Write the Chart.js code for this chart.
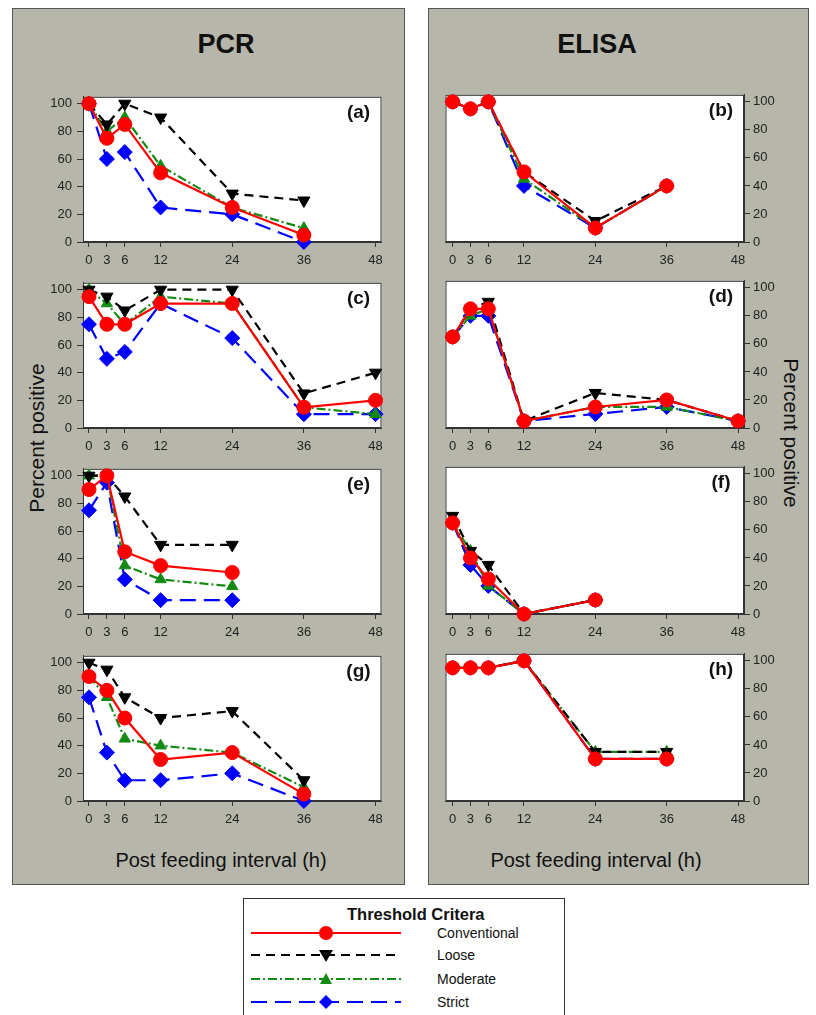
<!DOCTYPE html>
<html>
<head>
<meta charset="utf-8">
<script src="https://cdn.jsdelivr.net/npm/chart.js@4.4.1/dist/chart.umd.min.js"></script>
<style>
body { margin: 0; background: #fff; width: 816px; height: 1015px; overflow: hidden; position: relative;
       font-family: "Liberation Sans", Arial, sans-serif; color: #111; }
.box { position: absolute; top: 8px; height: 877px; background: #b7b6aa; border: 1px solid #555; box-sizing: border-box; }
.title { position: absolute; font-weight: bold; font-size: 27px; transform: translate(-50%, -50%); }
.lab { position: absolute; font-size: 21px; white-space: nowrap; transform: translate(-50%, -50%); }
.xlab { font-size: 20px; }
canvas { position: absolute; }
#legend { position: absolute; left: 243px; top: 898px; width: 322px; height: 130px; border: 1px solid #333; background: #fff; box-sizing: border-box; }
#legend .lt { position: absolute; left: 103px; top: 6px; font-weight: bold; font-size: 16.5px; }
#legend .it { position: absolute; left: 193px; font-size: 14px; transform: translateY(-50%); }
#legend svg { position: absolute; left: 0; top: 0; }
</style>
</head>
<body>
<div class="box" style="left:12px;width:393px"></div>
<div class="box" style="left:428px;width:381px"></div>
<div class="title" style="left:226px;top:44px">PCR</div>
<div class="title" style="left:597px;top:44px">ELISA</div>
<div class="lab" style="left:37px;top:438px;transform:translate(-50%,-50%) rotate(-90deg)">Percent positive</div>
<div class="lab" style="left:791px;top:433px;transform:translate(-50%,-50%) rotate(90deg)">Percent positive</div>
<div class="lab xlab" style="left:221px;top:860px">Post feeding interval (h)</div>
<div class="lab xlab" style="left:596px;top:860px">Post feeding interval (h)</div>

<canvas id="a" width="350" height="186" style="left:40px;top:84px"></canvas>
<canvas id="b" width="350" height="186" style="left:437px;top:84px"></canvas>
<canvas id="c" width="350" height="186" style="left:40px;top:270px"></canvas>
<canvas id="d" width="350" height="186" style="left:437px;top:270px"></canvas>
<canvas id="e" width="350" height="186" style="left:40px;top:456px"></canvas>
<canvas id="f" width="350" height="186" style="left:437px;top:456px"></canvas>
<canvas id="g" width="350" height="186" style="left:40px;top:643px"></canvas>
<canvas id="h" width="350" height="186" style="left:437px;top:643px"></canvas>

<div id="legend">
  <svg width="322" height="130">
    <line x1="7" y1="34" x2="157" y2="34" stroke="#ff0000" stroke-width="2.2"/>
    <circle cx="82" cy="34" r="7" fill="#ff0000"/>
    <line x1="7" y1="56" x2="157" y2="56" stroke="#000" stroke-width="2.2" stroke-dasharray="9,6"/>
    <polygon points="75,51 89,51 82,63" fill="#000"/>
    <line x1="7" y1="80" x2="157" y2="80" stroke="#138a13" stroke-width="2.2" stroke-dasharray="9,3,2,3"/>
    <polygon points="76,85 88,85 82,74" fill="#138a13"/>
    <line x1="7" y1="103" x2="157" y2="103" stroke="#0000ff" stroke-width="2.2" stroke-dasharray="16,8"/>
    <polygon points="82,96 89,103 82,110 75,103" fill="#0000ff"/>
  </svg>
  <div class="lt">Threshold Critera</div>
  <div class="it" style="top:34px">Conventional</div>
  <div class="it" style="top:56px">Loose</div>
  <div class="it" style="top:80px">Moderate</div>
  <div class="it" style="top:103px">Strict</div>
</div>

<script>
// sampling times (h) and axis ticks
const hours = [0, 3, 6, 12, 24, 36, 48];
const xTicks = [0, 3, 6, 12, 24, 36, 48];
const yTicks = [0, 20, 40, 60, 80, 100];
const seriesNames = ["Conventional", "Loose", "Moderate", "Strict"];

// PCR (left column) and ELISA (right column), percent positive per time point
const convA = [100, 75, 85, 50, 25, 5, null];
const looseA = [100, 85, 100, 90, 35, 30, null];
const modA = [100, 80, 90, 55, 25, 10, null];
const strictA = [100, 60, 65, 25, 20, 0, null];

const convB = [100, 95, 100, 50, 10, 40, null];
const looseB = [100, 95, 100, 50, 15, 40, null];
const modB = [100, 95, 100, 45, 10, 40, null];
const strictB = [100, 95, 100, 40, 10, 40, null];

const convC = [95, 75, 75, 90, 90, 15, 20];
const looseC = [100, 95, 85, 100, 100, 25, 40];
const modC = [100, 90, 75, 95, 90, 15, 10];
const strictC = [75, 50, 55, 90, 65, 10, 10];

const convD = [65, 85, 85, 5, 15, 20, 5];
const looseD = [65, 85, 90, 5, 25, 20, 5];
const modD = [65, 80, 85, 5, 15, 15, 5];
const strictD = [65, 80, 80, 5, 10, 15, 5];

const convE = [90, 100, 45, 35, 30, null, null];
const looseE = [100, 100, 85, 50, 50, null, null];
const modE = [100, 100, 35, 25, 20, null, null];
const strictE = [75, 95, 25, 10, 10, null, null];

const convF = [65, 40, 25, 0, 10, null, null];
const looseF = [70, 45, 35, 0, 10, null, null];
const modF = [65, 45, 20, 0, 10, null, null];
const strictF = [65, 35, 20, 0, 10, null, null];

const convG = [90, 80, 60, 30, 35, 5, null];
const looseG = [100, 95, 75, 60, 65, 15, null];
const modG = [90, 75, 45, 40, 35, 10, null];
const strictG = [75, 35, 15, 15, 20, 0, null];

const convH = [95, 95, 95, 100, 30, 30, null];
const looseH = [95, 95, 95, 100, 35, 35, null];
const modH = [95, 95, 95, 100, 35, 35, null];
const strictH = [95, 95, 95, 100, 30, 30, null];

const styles = [
  { color: "#ff0000", dash: [], point: "circle", radius: 7, rotation: 0 },
  { color: "#000000", dash: [9, 6], point: "triangle", radius: 7, rotation: 180 },
  { color: "#138a13", dash: [9, 3, 2, 3], point: "triangle", radius: 6.5, rotation: 0 },
  { color: "#0000ff", dash: [16, 8], point: "rectRot", radius: 7.5, rotation: 0 }
];

Chart.defaults.font.family = "'Liberation Sans', Arial, sans-serif";
Chart.defaults.font.size = 13;
Chart.defaults.color = "#222";

const framePlugin = {
  id: "frame",
  beforeDraw(chart) {
    const a = chart.chartArea, ctx = chart.ctx;
    ctx.save();
    ctx.fillStyle = "#fff";
    ctx.fillRect(a.left, a.top, a.right - a.left, a.bottom - a.top);
    ctx.restore();
  },
  beforeDatasetsDraw(chart) {
    const a = chart.chartArea, ctx = chart.ctx;
    ctx.save();
    ctx.strokeStyle = "#333";
    ctx.lineWidth = 1;
    ctx.strokeRect(a.left + 0.5, a.top + 0.5, a.right - a.left - 1, a.bottom - a.top - 1);
    ctx.restore();
  },
  afterDraw(chart) {
    const a = chart.chartArea, ctx = chart.ctx;
    ctx.save();
    ctx.font = "bold 19px 'Liberation Sans', Arial, sans-serif";
    ctx.fillStyle = "#111";
    ctx.textAlign = "center";
    ctx.textBaseline = "middle";
    ctx.fillText(chart.options.plugins.frame.letter, a.right - 23, a.top + 16);
    ctx.restore();
  }
};

function makePanel(id, series, side) {
  const datasets = series.map((vals, i) => {
    const s = styles[i];
    return {
      label: seriesNames[i],
      data: hours.map((h, k) => ({ x: h, y: vals[k] })).filter(p => p.y !== null),
      borderColor: s.color,
      backgroundColor: s.color,
      borderWidth: 2.2,
      borderDash: s.dash,
      pointStyle: s.point,
      pointRadius: s.radius,
      pointRotation: s.rotation,
      pointBorderWidth: 1,
      tension: 0,
      clip: false
    };
  });
  new Chart(document.getElementById(id), {
    type: "line",
    data: { datasets },
    options: {
      responsive: false,
      animation: false,
      layout: { padding: side === "left" ? { top: 8, right: 7, left: 0, bottom: 0 } : { top: 8, right: 0, left: 7, bottom: 0 } },
      plugins: { legend: { display: false }, tooltip: { enabled: false }, frame: { letter: "(" + id + ")" } },
      scales: {
        x: {
          type: "linear",
          min: side === "left" ? -1 : -1.2,
          max: 49,
          afterBuildTicks: sc => { sc.ticks = xTicks.map(v => ({ value: v })); },
          afterFit: sc => { sc.height = 28; },
          ticks: { padding: 6, autoSkip: false, maxRotation: 0 },
          grid: { drawOnChartArea: false, drawTicks: true, tickLength: 5, color: "#333" },
          border: { display: true, color: "#333" }
        },
        y: {
          position: side,
          min: 0,
          max: 105,
          afterBuildTicks: sc => { sc.ticks = yTicks.map(v => ({ value: v })); },
          afterFit: sc => { sc.width = 43; },
          ticks: { padding: side === "left" ? 5 : 3 },
          grid: { drawOnChartArea: false, drawTicks: true, tickLength: 6, color: "#333" },
          border: { display: true, color: "#333" }
        }
      }
    },
    plugins: [framePlugin]
  });
}

makePanel("a", [convA, looseA, modA, strictA], "left");
makePanel("b", [convB, looseB, modB, strictB], "right");
makePanel("c", [convC, looseC, modC, strictC], "left");
makePanel("d", [convD, looseD, modD, strictD], "right");
makePanel("e", [convE, looseE, modE, strictE], "left");
makePanel("f", [convF, looseF, modF, strictF], "right");
makePanel("g", [convG, looseG, modG, strictG], "left");
makePanel("h", [convH, looseH, modH, strictH], "right");
</script>
</body>
</html>
